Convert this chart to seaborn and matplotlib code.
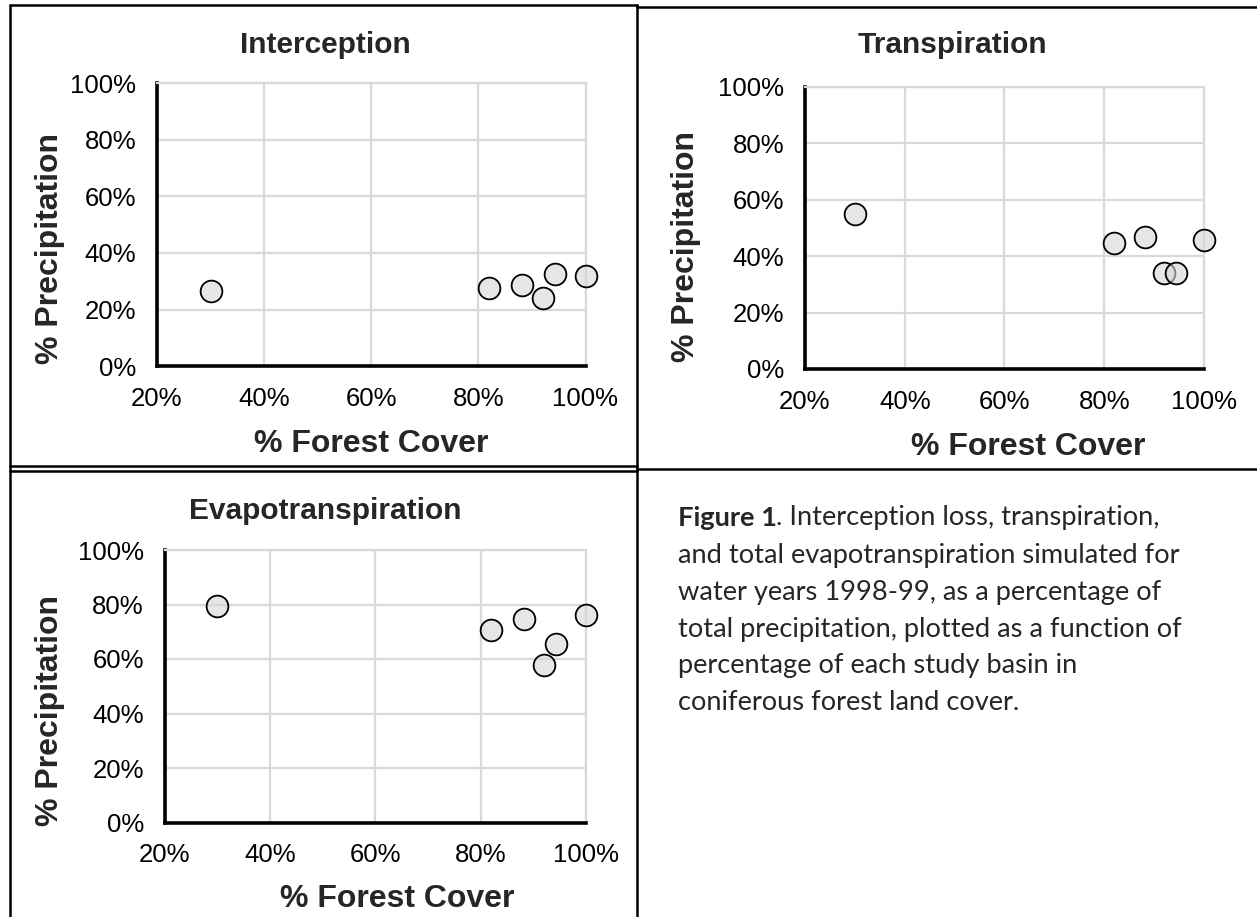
import pandas as pd
import matplotlib.pyplot as plt
import seaborn as sns
from matplotlib.lines import Line2D
from matplotlib.ticker import FuncFormatter

# basins (% coniferous forest cover) and simulated losses (% of precipitation)
forest_cover = [30, 82, 88.2, 92, 94.3, 100]
interception = [26.6, 27.6, 28.5, 24.1, 32.5, 32.0]
transpiration = [54.9, 44.7, 46.7, 34.2, 34.0, 45.6]
evapotranspiration = [79.3, 70.5, 74.8, 57.7, 65.5, 76.3]

x_ticks = [20, 40, 60, 80, 100]
y_ticks = [0, 20, 40, 60, 80, 100]

caption_bold = "Figure 1"
caption_first = ". Interception loss, transpiration,"
caption_rest = [
    "and total evapotranspiration simulated for",
    "water years 1998-99, as a percentage of",
    "total precipitation, plotted as a function of",
    "percentage of each study basin in",
    "coniferous forest land cover.",
]

W, H = 1257, 917

sns.set_style("white")
plt.rcParams['font.family'] = ['Liberation Sans', 'DejaVu Sans']

fig = plt.figure(figsize=(W / 100, H / 100), dpi=100)


def fx(x):
    return x / W


def fy(y):
    return 1 - y / H


def box(l, t, r, b):
    return [fx(l), fy(b), (r - l) / W, (b - t) / H]


# title, values, axes box, title pos, xlabel pos, ylabel pos (pixels)
panels = [
    ("Interception", interception, box(157, 83.5, 585.5, 366), (325, 53), (371, 452), (50, 248)),
    ("Transpiration", transpiration, box(805, 87, 1204, 369), (952, 53), (1028, 455), (686, 247)),
    ("Evapotranspiration", evapotranspiration, box(164.6, 550, 586.3, 822.5), (325, 519), (397, 907), (50, 710)),
]

pct = FuncFormatter(lambda v, _: f"{v:.0f}%")

for title, vals, rect, tpos, xlpos, ylpos in panels:
    ax = fig.add_axes(rect)
    df = pd.DataFrame({'forest': forest_cover, 'share': vals})
    sns.scatterplot(data=df, x='forest', y='share', ax=ax, s=245,
                    color=(0.84, 0.84, 0.84, 0.6), edgecolor='black',
                    linewidth=1.3, zorder=3, clip_on=False)
    ax.set_xlim(20, 100)
    ax.set_ylim(0, 100)
    ax.set_xticks(x_ticks)
    ax.set_yticks(y_ticks)
    ax.xaxis.set_major_formatter(pct)
    ax.yaxis.set_major_formatter(pct)
    ax.grid(True, color='#d9d9d9', linewidth=1.6)
    ax.set_axisbelow(True)
    for s in ['left', 'bottom']:
        ax.spines[s].set_color('black')
        ax.spines[s].set_linewidth(2.6)
        ax.spines[s].set_zorder(2.5)
    for s in ['top', 'right']:
        ax.spines[s].set_color('#d9d9d9')
        ax.spines[s].set_linewidth(1.6)
    ax.tick_params(length=0, labelsize=18.5, pad=15, labelcolor='black')

    ax.set_xlabel('% Forest Cover', fontsize=23, fontweight='bold')
    ax.xaxis.set_label_coords(fx(xlpos[0]), fy(xlpos[1]), transform=fig.transFigure)
    ax.xaxis.label.set_va('baseline')
    ax.set_ylabel('% Precipitation', fontsize=23, fontweight='bold')
    ax.yaxis.set_label_coords(fx(ylpos[0]), fy(ylpos[1]), transform=fig.transFigure)
    ax.yaxis.label.set_va('center')

    fig.text(fx(tpos[0]), fy(tpos[1]), title, ha='center', va='baseline',
             fontsize=21.5, fontweight='bold')

# table borders
lw = 1.8
borders = [
    ((10, 637), (5, 5)),
    ((637, 1257), (7, 7)),
    ((10, 637), (466, 466)),
    ((637, 1257), (469, 469)),
    ((10, 637), (471, 471)),
    ((10, 10), (5, 917)),
    ((637, 637), (5, 917)),
]
for xs, ys in borders:
    fig.add_artist(Line2D([fx(v) for v in xs], [fy(v) for v in ys],
                          color='black', linewidth=lw))

# caption
cap_ax = fig.add_axes([0, 0, 1, 1])
cap_ax.axis('off')
cap_fs = 19.6
cap_x = 677.5
cap_font = ['Lato', 'DejaVu Sans']
t0 = cap_ax.text(fx(cap_x), fy(526), caption_bold, fontfamily=cap_font,
                 fontweight='bold', fontsize=cap_fs, va='baseline', ha='left')
cap_ax.annotate(caption_first, xy=(1, 0), xycoords=t0, va='bottom', ha='left',
                fontfamily=cap_font, fontsize=cap_fs)
for i, line in enumerate(caption_rest):
    cap_ax.text(fx(cap_x), fy(563 + i * 36.8), line, fontfamily=cap_font,
                fontsize=cap_fs, va='baseline', ha='left')

plt.savefig('out.png', dpi=100)
